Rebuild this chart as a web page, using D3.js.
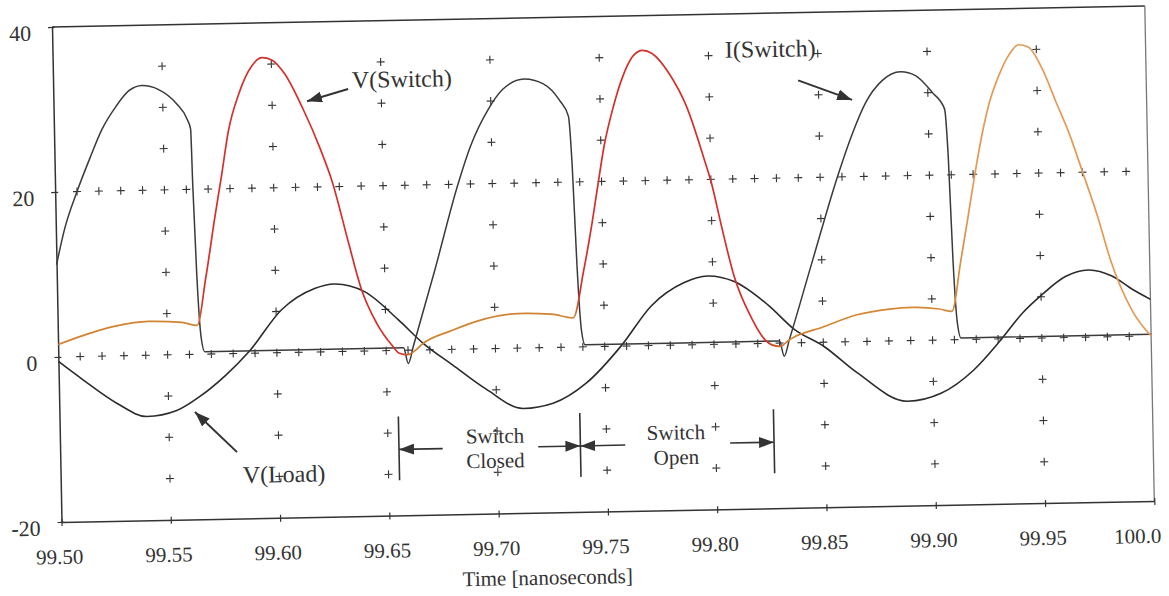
<!DOCTYPE html>
<html>
<head>
<meta charset="utf-8">
<script src="https://cdn.jsdelivr.net/npm/d3@7"></script>
<style>
body { margin: 0; background: #fff; }
text { font-family: "Liberation Serif", "Times New Roman", serif; fill: #333; }
</style>
</head>
<body>
<div id="chart"></div>
<script>
// I(Switch) - current through the switch
var tISwitch = [99.500, 99.504, 99.510, 99.516, 99.522, 99.5285, 99.5346, 99.5407, 99.548, 99.556, 99.561, 99.5625, 99.563, 99.564, 99.5655, 99.567,
    99.658, 99.660, 99.6625, 99.6729, 99.6843, 99.6904, 99.6988, 99.7056, 99.7155, 99.724, 99.7316, 99.7354, 99.7367, 99.738, 99.7395, 99.741,
    99.830, 99.832, 99.8345, 99.846, 99.8579, 99.8648, 99.8716, 99.8793, 99.8877, 99.8945, 99.9021, 99.9075, 99.9088, 99.910, 99.9115, 99.913, 100.0];
var vISwitch = [11.2, 15.5, 20.0, 23.9, 27.5, 30.2, 32.1, 32.7, 32.2, 30.5, 28.5, 27.3, 20.4, 10, 2, 0.3,
    0.3, -1.6, 0.5, 9.6, 20.0, 24.6, 29.0, 31.4, 32.6, 32.0, 29.9, 28.0, 22, 10, 2, 0.25,
    0.25, -1.6, 0.4, 10.1, 20.0, 25.0, 29.0, 31.6, 32.6, 32.1, 30.0, 28.0, 22, 10, 2, 0.2, 0.2];

// V(Switch) - voltage across the switch
var tVSwitch = [99.500, 99.511, 99.5263, 99.5416, 99.5568, 99.5637, 99.5681, 99.5727, 99.5765, 99.5796, 99.5849, 99.591, 99.5956, 99.6002, 99.6062,
    99.6139, 99.6215, 99.6268, 99.6337, 99.6391, 99.646, 99.6528, 99.656, 99.6597, 99.6635, 99.666, 99.6802, 99.6954, 99.7107, 99.7259, 99.7358,
    99.741, 99.7453, 99.7483, 99.7514, 99.756, 99.7605, 99.7651, 99.7697, 99.7742, 99.7819, 99.7895, 99.7971, 99.8002, 99.8047, 99.8098, 99.8174,
    99.8235, 99.8265, 99.8303, 99.8341, 99.836, 99.85, 99.8652, 99.8805, 99.8912, 99.9034, 99.9091, 99.9135, 99.9174, 99.921, 99.9245, 99.928,
    99.9326, 99.9372, 99.9418, 99.9463, 99.9524, 99.9585, 99.9646, 99.970, 99.9768, 99.9822, 99.9918, 100.0];
var vVSwitch = [1.5, 2.5, 3.6, 4.1, 3.9, 3.5, 9.2, 16.4, 22.0, 26.8, 31.5, 34.8, 35.8, 35.5, 33.7,
    29.6, 24.7, 20.6, 13.2, 7.6, 3.3, 0.6, -0.35, -0.55, 0.0, 0.6, 2.28, 3.62, 4.19, 4.03, 3.54,
    9.2, 15.0, 19.6, 24.2, 29.0, 32.6, 35.0, 35.8, 35.4, 32.9, 28.9, 22.5, 19.6, 14.0, 8.2, 3.1,
    0.4, -0.2, -0.4, 0.3, 0.6, 1.85, 3.22, 3.87, 4.02, 3.76, 3.45, 9.4, 15.0, 20.3, 24.9, 28.6,
    31.9, 34.3, 35.6, 35.3, 32.7, 28.6, 24.5, 20.1, 14.4, 9.2, 3.0, 0.0];

// V(Load) - voltage across the load
var tVLoad = [99.500, 99.5111, 99.5263, 99.540, 99.5537, 99.5644, 99.5766, 99.5873, 99.6025, 99.6178, 99.6269, 99.6406, 99.6559, 99.667,
    99.6802, 99.6954, 99.7122, 99.7259, 99.7412, 99.7579, 99.7716, 99.7869, 99.7976, 99.8098, 99.825, 99.837,
    99.85, 99.8652, 99.888, 99.9034, 99.9186, 99.9308, 99.9415, 99.9506, 99.9613, 99.972, 99.9826, 99.9918, 100.0];
var vVLoad = [-0.55, -2.83, -5.74, -7.43, -6.77, -5.12, -2.56, 0.21, 5.2, 7.7, 8.2, 7.2, 3.7, 0.8,
    -1.88, -4.9, -7.33, -6.76, -4.41, 0.15, 4.8, 7.56, 8.3, 7.56, 4.66, 1.6,
    -0.45, -3.77, -7.35, -6.46, -3.71, -0.26, 3.12, 5.3, 7.4, 8.14, 7.35, 5.7, 4.44];

var xTicks = [99.50, 99.55, 99.60, 99.65, 99.70, 99.75, 99.80, 99.85, 99.90, 99.95, 100.0];
var xTickLabels = ["99.50", "99.55", "99.60", "99.65", "99.70", "99.75", "99.80", "99.85", "99.90", "99.95", "100.0"];
var yTicks = [-20, 0, 20, 40];

// switching instants marked under the curves
var switchTimes = [99.655, 99.738, 99.8266];

// colour of V(Switch) along time (scan shows red humps, orange slow parts)
var vSwitchColors = [
    [99.500, "#d2832f"], [99.5640, "#d2832f"], [99.5665, "#d3302b"], [99.6560, "#d3302b"], [99.6630, "#d2832f"],
    [99.7365, "#d2832f"], [99.7390, "#d3302b"], [99.8240, "#d3302b"], [99.8340, "#d2832f"], [99.9110, "#d88a3a"],
    [99.9200, "#e39a55"], [100.0, "#e39a55"]
];

var width = 1169, height = 596;
var plot = { left: 52, top: 27, width: 1093, height: 495 };

var svg = d3.select("#chart").append("svg")
    .attr("width", width)
    .attr("height", height);

// the scanned figure is slightly rotated
var g = svg.append("g")
    .attr("transform", "translate(" + plot.left + "," + plot.top + ") rotate(-1.1)");

var x = d3.scaleLinear().domain([99.5, 100]).range([0, plot.width]);
var y = d3.scaleLinear().domain([-20, 40]).range([plot.height, 0]);

var defs = svg.append("defs");
defs.append("marker")
    .attr("id", "head")
    .attr("markerUnits", "userSpaceOnUse")
    .attr("viewBox", "0 0 15 11")
    .attr("refX", 15).attr("refY", 5.5)
    .attr("markerWidth", 15).attr("markerHeight", 11)
    .attr("orient", "auto")
    .append("path")
    .attr("d", "M0,0L15,5.5L0,11Z")
    .attr("fill", "#333");

var grad = defs.append("linearGradient")
    .attr("id", "vswitch")
    .attr("gradientUnits", "userSpaceOnUse")
    .attr("x1", x(99.5)).attr("x2", x(100)).attr("y1", 0).attr("y2", 0);
grad.selectAll("stop")
    .data(vSwitchColors)
    .enter().append("stop")
    .attr("offset", function (d) { return (d[0] - 99.5) / 0.5; })
    .attr("stop-color", function (d) { return d[1]; });

// Grid of "+" marks: rows at 0 and 20, columns at each major x tick
var crosses = [];
var seen = {};
function addCross(t, v) {
    var k = t.toFixed(3) + "|" + v;
    if (seen[k]) return;
    seen[k] = true;
    crosses.push([t, v]);
}
x.ticks(50).filter(function (t) { return t > 99.5 && t < 100; }).forEach(function (t) {
    addCross(t, 0);
    addCross(t, 20);
});
x.ticks(10).filter(function (t) { return t > 99.5 && t < 100; }).forEach(function (t) {
    y.ticks(12).filter(function (v) { return v > -20 && v < 40; }).forEach(function (v) {
        addCross(t, v);
    });
});
g.append("g").selectAll("path")
    .data(crosses)
    .enter().append("path")
    .attr("transform", function (d) { return "translate(" + x(d[0]) + "," + y(d[1]) + ")"; })
    .attr("d", "M-4,0H4M0,-4V4")
    .attr("stroke", "#333")
    .attr("stroke-width", 1.1);

// Frame
g.append("line").attr("x1", 0).attr("x2", plot.width).attr("y1", 0).attr("y2", 0)
    .attr("stroke", "#333").attr("stroke-width", 1.5);
g.append("line").attr("x1", plot.width).attr("x2", plot.width).attr("y1", 0).attr("y2", plot.height)
    .attr("stroke", "#777").attr("stroke-width", 1.3);

// Axes
var xAxis = g.append("g")
    .attr("transform", "translate(0," + plot.height + ")")
    .call(d3.axisBottom(x).tickValues(xTicks).tickSize(4).tickSizeOuter(0)
        .tickFormat(function (d, i) { return xTickLabels[i]; }));
var yAxis = g.append("g")
    .call(d3.axisLeft(y).tickValues(yTicks).tickSize(4).tickSizeOuter(0)
        .tickFormat(function (d) { return d; }));

[xAxis, yAxis].forEach(function (a) {
    a.select(".domain").attr("stroke", "#333").attr("stroke-width", 1.5);
    a.selectAll(".tick line").attr("stroke", "#333").attr("stroke-width", 1.2);
    a.selectAll("text").attr("font-family", null).attr("font-size", 21).attr("fill", "#333");
});
xAxis.selectAll(".tick line").attr("y1", -3);
xAxis.selectAll(".tick text").attr("y", 42).attr("dy", 0).attr("dx", -3);
xAxis.selectAll(".tick text").filter(function (d) { return d === 100; })
    .attr("text-anchor", "end").attr("dx", 6).attr("fill", "#777");
yAxis.selectAll(".tick line").attr("x1", 3);
yAxis.selectAll(".tick text").attr("x", -21).attr("dy", 0).attr("y", 13).attr("font-size", 22);

g.append("text")
    .attr("x", x(99.7219))
    .attr("y", plot.height + 72)
    .attr("text-anchor", "middle")
    .attr("font-size", 21)
    .text("Time [nanoseconds]");

// Curves
var line = d3.line()
    .x(function (d) { return x(d[0]); })
    .y(function (d) { return y(d[1]); })
    .curve(d3.curveMonotoneX);

g.append("path").datum(d3.zip(tVLoad, vVLoad))
    .attr("d", line).attr("fill", "none").attr("stroke", "#2b2b2b").attr("stroke-width", 1.6);
g.append("path").datum(d3.zip(tISwitch, vISwitch))
    .attr("d", line).attr("fill", "none").attr("stroke", "#3a3a3a").attr("stroke-width", 1.5);
g.append("path").datum(d3.zip(tVSwitch, vVSwitch))
    .attr("d", line).attr("fill", "none").attr("stroke", "url(#vswitch)").attr("stroke-width", 1.7);

// Curve labels with arrows
var curveLabels = [
    { text: "V(Switch)", at: [99.6367, 31.9], from: [99.6349, 31.8], to: [99.616, 30.4] },
    { text: "I(Switch)", at: [99.8076, 34.7], from: [99.8408, 31.8], to: [99.8653, 29.3] },
    { text: "V(Load)", at: [99.5833, -15.7], from: [99.5809, -11.95], to: [99.562, -7.0] }
];
curveLabels.forEach(function (c) {
    g.append("text")
        .attr("x", x(c.at[0])).attr("y", y(c.at[1]))
        .attr("font-size", 24)
        .text(c.text);
    g.append("line")
        .attr("x1", x(c.from[0])).attr("y1", y(c.from[1]))
        .attr("x2", x(c.to[0])).attr("y2", y(c.to[1]))
        .attr("stroke", "#333").attr("stroke-width", 2)
        .attr("marker-end", "url(#head)");
});

// Switch closed / open intervals
switchTimes.forEach(function (t) {
    g.append("line")
        .attr("x1", x(t)).attr("x2", x(t))
        .attr("y1", y(-8)).attr("y2", y(-15.75))
        .attr("stroke", "#333").attr("stroke-width", 1.6);
});
var spanArrows = [[99.675, 99.655], [99.7187, 99.738], [99.7585, 99.738], [99.8065, 99.8266]];
spanArrows.forEach(function (a) {
    g.append("line")
        .attr("x1", x(a[0])).attr("x2", x(a[1]))
        .attr("y1", y(-12)).attr("y2", y(-12))
        .attr("stroke", "#333").attr("stroke-width", 1.6)
        .attr("marker-end", "url(#head)");
});
var spanLabels = [
    { lines: ["Switch", "Closed"], t: 99.699 },
    { lines: ["Switch", "Open"], t: 99.7818 }
];
spanLabels.forEach(function (s) {
    s.lines.forEach(function (txt, i) {
        g.append("text")
            .attr("x", x(s.t)).attr("y", y(i === 0 ? -11.45 : -14.45))
            .attr("text-anchor", "middle")
            .attr("font-size", 21)
            .text(txt);
    });
});
</script>
</body>
</html>
